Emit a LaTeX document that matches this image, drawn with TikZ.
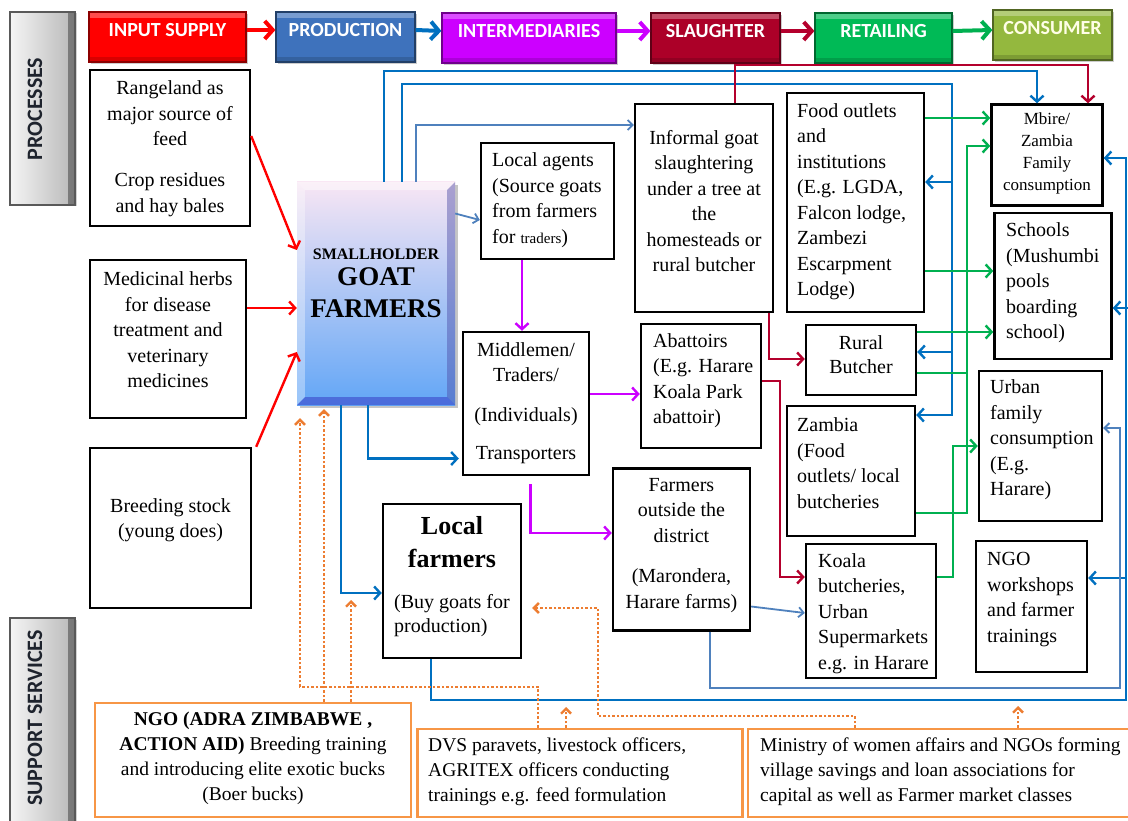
\documentclass[tikz,border=0pt]{standalone}
\usepackage{fontspec}
\setmainfont{Liberation Serif}
\newfontfamily\labfont{Carlito}
\usetikzlibrary{arrows.meta,shadows}
\definecolor{cRed}{RGB}{255,0,0}
\definecolor{cBlue}{RGB}{0,112,192}
\definecolor{cProd}{RGB}{62,114,188}
\definecolor{cMag}{RGB}{204,0,255}
\definecolor{cSl}{RGB}{172,0,40}
\definecolor{cDred}{RGB}{180,0,45}
\definecolor{cGrn}{RGB}{0,176,80}
\definecolor{cRet}{RGB}{0,186,86}
\definecolor{cCons}{RGB}{148,184,62}
\definecolor{cSteel}{RGB}{79,129,189}
\definecolor{cOrg}{RGB}{237,125,49}
\definecolor{cOrgBox}{RGB}{247,150,70}
\definecolor{cSide}{RGB}{30,35,45}
\tikzset{
  box/.style={draw=black, line width=2.4pt, fill=white, inner sep=0pt},
  obox/.style={draw=cOrgBox, line width=2.4pt, fill=white, inner sep=0pt},
  txt/.style={font=\fontsize{20}{25.5}\selectfont, inner sep=0pt},
  ctxt/.style={txt, align=center},
  ltxt/.style={txt, align=left, anchor=west},
  stxt/.style={font=\fontsize{19.5}{25}\selectfont, inner sep=0pt},
  pbox/.style={fill=#1, draw=#1!55!black, line width=1.2pt, minimum height=50pt, inner sep=0pt,
     text=white, font=\labfont\bfseries\fontsize{20}{22}\selectfont,
     drop shadow={opacity=0.4, shadow xshift=1.5pt, shadow yshift=-2pt},
     path picture={\fill[white,opacity=0.3] (path picture bounding box.north west) rectangle ([yshift=-6pt]path picture bounding box.north east);
                   \fill[black,opacity=0.15] (path picture bounding box.south west) rectangle ([yshift=5pt]path picture bounding box.south east);}},
  side/.style={left color=white!96!black, right color=white!72!black, draw=black!65, line width=1.2pt, inner sep=0pt,
     drop shadow={opacity=0.35, shadow xshift=1.5pt, shadow yshift=-1.5pt},
     path picture={\fill[black,opacity=0.35] ([xshift=-7pt]path picture bounding box.north east) rectangle (path picture bounding box.south east);}},
  sidetxt/.style={font=\labfont\bfseries\fontsize{22}{24}\selectfont, text=cSide, rotate=90, inner sep=0pt},
  parrow/.style={line width=4pt, -{Straight Barb[length=8pt,width=18pt]}},
  tip/.style={-{Straight Barb[length=6pt,width=13pt]}},
  rtip/.style={{Straight Barb[length=6pt,width=13pt]}-},
  stip/.style={-{Straight Barb[length=5pt,width=10pt]}},
  otip/.style={-{Straight Barb[length=5pt,width=10pt]}},
  blu/.style={draw=cBlue, line width=2.4pt},
  sblu/.style={draw=cSteel, line width=1.8pt},
  mag/.style={draw=cMag, line width=2.4pt},
  dred/.style={draw=cDred, line width=2.4pt},
  grn/.style={draw=cGrn, line width=2.4pt},
  rd/.style={draw=cRed, line width=2.4pt},
  org/.style={draw=cOrg, line width=2.4pt, dash pattern=on 2.5pt off 2pt},
}
\begin{document}
\begin{tikzpicture}[x=1pt,y=-1pt]
\useasboundingbox (0,0) rectangle (1128,821);
\fill[white] (0,0) rectangle (1128,821);

% ---------- top process boxes ----------
\node[pbox=cRed, minimum width=157pt] (inp) at (167.5,37) {\raisebox{7pt}[\height][\depth]{INPUT SUPPLY}};
\node[pbox=cProd, minimum width=139pt] (prod) at (345.5,37) {\raisebox{7pt}[\height][\depth]{PRODUCTION}};
\node[pbox=cMag, minimum width=174pt] (inter) at (529,38) {\raisebox{7pt}[\height][\depth]{INTERMEDIARIES}};
\node[pbox=cSl, minimum width=129pt] (slau) at (715.5,38) {\raisebox{7pt}[\height][\depth]{SLAUGHTER}};
\node[pbox=cRet, minimum width=137pt] (reta) at (883.5,38) {\raisebox{7pt}[\height][\depth]{RETAILING}};
\node[pbox=cCons, minimum width=119pt, text=white!90!yellow] (cons) at (1052.5,35) {\raisebox{7pt}[\height][\depth]{CONSUMER}};

\draw[parrow, draw=cRed] ([yshift=7pt]inp.east) -- ([yshift=7pt]prod.west);
\draw[parrow, draw=cBlue] ([yshift=7pt]prod.east) -- ([yshift=7pt]inter.west);
\draw[parrow, draw=cMag] ([yshift=7pt]inter.east) -- ([yshift=7pt]slau.west);
\draw[parrow, draw=cDred] ([yshift=7pt]slau.east) -- ([yshift=7pt]reta.west);
\draw[parrow, draw=cGrn] ([yshift=7pt]reta.east) -- ([yshift=5pt]cons.west);

% ---------- side labels ----------
\node[side, minimum width=65pt, minimum height=193pt] (proc) at (42.5,108.5) {};
\node[sidetxt] (procT) at (35,109) {PROCESSES};
\node[side, minimum width=65pt, minimum height=206pt] (supp) at (42.5,721) {};
\node[sidetxt] (suppT) at (35,718) {SUPPORT SERVICES};

% ---------- boxes ----------
\node[box, minimum width=160pt, minimum height=156pt] (rang) at (170,148) {};
\node[ctxt] (rangT) at (170,148.5) {Rangeland as\\major source of\\feed\\[15.5pt]Crop residues\\and hay bales};
\node[box, minimum width=156pt, minimum height=158pt] (medi) at (168,339) {};
\node[ctxt] (mediT) at (168,330) {Medicinal herbs\\for disease\\treatment and\\veterinary\\medicines};
\node[box, minimum width=161pt, minimum height=160pt] (bree) at (170.5,528) {};
\node[ctxt] (breeT) at (170.5,520) {Breeding stock\\(young does)};

% smallholder goat farmers
\node[minimum width=158pt, minimum height=223pt, inner sep=0pt,
      top color={rgb,255:red,248;green,230;blue,244},
      middle color={rgb,255:red,176;green,208;blue,250},
      bottom color={rgb,255:red,98;green,166;blue,246},
      drop shadow={opacity=0.45, shadow xshift=3pt, shadow yshift=-3pt}] (sgf) at (376,293.5) {};
\fill[white, opacity=0.45] (sgf.north west) -- (sgf.north east) -- ([xshift=-8pt,yshift=-8pt]sgf.north east) -- ([xshift=8pt,yshift=-8pt]sgf.north west) -- cycle;
\fill[white, opacity=0.35] (sgf.north west) -- ([xshift=8pt,yshift=-8pt]sgf.north west) -- ([xshift=8pt,yshift=8pt]sgf.south west) -- (sgf.south west) -- cycle;
\fill[black!50!blue!70, opacity=0.45] (sgf.north east) -- ([xshift=-8pt,yshift=-8pt]sgf.north east) -- ([xshift=-8pt,yshift=8pt]sgf.south east) -- (sgf.south east) -- cycle;
\fill[black!30!blue!80, opacity=0.5] (sgf.south west) -- ([xshift=8pt,yshift=8pt]sgf.south west) -- ([xshift=-8pt,yshift=8pt]sgf.south east) -- (sgf.south east) -- cycle;
\node[align=center, inner sep=0pt, font=\bfseries\fontsize{27}{32}\selectfont] (sgfT) at (376,283) {{\fontsize{16}{20}\selectfont SMALLHOLDER}\\[-6pt]GOAT\\FARMERS};

\node[box, minimum width=133pt, minimum height=116pt] (agents) at (547.5,201) {};
\node[ltxt] (agentsT) at (492,200) {Local agents\\(Source goats\\from farmers\\for {\fontsize{15}{25.5}\selectfont traders})};

\node[box, minimum width=138pt, minimum height=208pt] (informal) at (704,208) {};
\node[ctxt] (informalT) at (704,201) {Informal goat\\slaughtering\\under a tree at\\the\\homesteads or\\rural butcher};

\node[box, minimum width=137pt, minimum height=219pt] (food) at (855.5,202.5) {};
\node[ltxt] (foodT) at (797,201.5) {Food outlets\\and\\institutions\\(E.g. LGDA,\\Falcon lodge,\\Zambezi\\Escarpment\\Lodge)};

\node[box, minimum width=111pt, minimum height=101pt] (mbire) at (1047,155) {};
\node[align=center, inner sep=0pt, font=\fontsize{17}{22}\selectfont] (mbireT) at (1047,153) {Mbire/\\Zambia\\Family\\consumption};

\node[box, minimum width=117pt, minimum height=146pt] (schools) at (1053,286) {};
\node[ltxt] (schoolsT) at (1006,283) {Schools\\(Mushumbi\\pools\\boarding\\school)};

\node[box, minimum width=126pt, minimum height=143pt] (middle) at (526,403.5) {};
\node[ctxt] (middleT) at (526,403) {Middlemen/\\Traders/\\[14.5pt](Individuals)\\[12.5pt]Transporters};

\node[box, minimum width=120pt, minimum height=124pt] (abat) at (701,386) {};
\node[ltxt] (abatT) at (653,380.5) {Abattoirs\\(E.g. Harare\\Koala Park\\abattoir)};

\node[box, minimum width=110pt, minimum height=70pt] (rural) at (861,360) {};
\node[align=center, inner sep=0pt, font=\fontsize{20}{24}\selectfont] (ruralT) at (861,355) {Rural\\Butcher};

\node[box, minimum width=128pt, minimum height=130pt] (zambia) at (851,471) {};
\node[ltxt] (zambiaT) at (797,463) {Zambia\\(Food\\outlets/ local\\butcheries};

\node[box, minimum width=123pt, minimum height=150pt] (urban) at (1040.5,446) {};
\node[ltxt] (urbanT) at (990,440) {Urban\\family\\consumption\\(E.g.\\Harare)};

\node[box, minimum width=137pt, minimum height=162pt] (farmout) at (681.5,549.5) {};
\node[ctxt] (farmoutT) at (681.5,545.5) {Farmers\\outside the\\district\\[15pt](Marondera,\\Harare farms)};

\node[box, minimum width=138pt, minimum height=154pt] (localf) at (452,581) {};
\node[align=center, inner sep=0pt, font=\fontsize{26}{33}\selectfont\bfseries] (lf1) at (452,542.5) {Local\\farmers};
\node[align=left, anchor=west, inner sep=0pt, font=\fontsize{20}{24}\selectfont] (lf2) at (394,616) {(Buy goats for\\production)};

\node[box, minimum width=130pt, minimum height=134pt] (koala) at (871,611) {};
\node[ltxt] (koalaT) at (818,613.5) {Koala\\butcheries,\\Urban\\Supermarkets\\e.g. in Harare};

\node[box, minimum width=111pt, minimum height=131pt] (ngow) at (1031.5,606.5) {};
\node[ltxt] (ngowT) at (987,599.5) {NGO\\workshops\\and farmer\\trainings};

% support boxes
\node[obox, minimum width=316pt, minimum height=114pt] (ngo) at (253,760) {};
\node[stxt, align=center] (ngoT) at (253,758.5) {\textbf{NGO (ADRA ZIMBABWE ,}\\\textbf{ACTION AID)} Breeding training\\and introducing elite exotic bucks\\(Boer bucks)};
\node[obox, minimum width=325pt, minimum height=88pt] (dvs) at (580,773) {};
\node[stxt, align=left, anchor=west] (dvsT) at (428,772) {DVS paravets, livestock officers,\\AGRITEX officers conducting\\trainings e.g. feed formulation};
\node[obox, minimum width=387pt, minimum height=88pt] (mini) at (941.5,773) {};
\node[stxt, align=left, anchor=west] (miniT) at (760,772) {Ministry of women affairs and NGOs forming\\village savings and loan associations for\\capital as well as Farmer market classes};

% ---------- red input arrows ----------
\draw[rd,tip] ([yshift=12pt]rang.east) -- ([yshift=43.5pt]sgf.west);
\draw[rd,tip] ([yshift=31pt]medi.east) -- ([yshift=-14.5pt]sgf.west);
\draw[rd,tip] ([xshift=4pt]bree.north east) -- ([yshift=-58.5pt]sgf.west);

% ---------- production (blue) ----------
\draw[blu,tip] ([xshift=8pt]sgf.north) -- ++(0,-111) -| ([xshift=-10pt]mbire.north);
\coordinate (bv) at (952,84);
\draw[blu,tip] ([xshift=26pt]sgf.north) |- (bv) |- ([yshift=56pt]zambia.east);
\draw[blu,rtip] ([yshift=20.5pt]food.east) -- ++(28,0);
\draw[blu,rtip] ([yshift=8pt]rural.east) -- ++(36,0);
\draw[sblu,stip] ([xshift=40pt]sgf.north) |- ([yshift=83pt]informal.west);
\draw[sblu,stip] ([yshift=80pt]sgf.east) -- ([yshift=-19pt]agents.west);
\draw[blu,tip] ([xshift=-8pt]sgf.south) |- ([yshift=-55pt,xshift=-3pt]middle.west);
\draw[blu,tip] ([xshift=-35pt]sgf.south) |- ([yshift=-12pt]localf.west);
\coordinate (br) at (1126,700);
\draw[blu,tip] ([xshift=-21pt]localf.south) |- (br) |- ([yshift=-3pt]mbire.east);
\draw[blu,rtip] ([yshift=-22pt]schools.east) -- ++(15,0);
\draw[blu,rtip] ([yshift=28.5pt]ngow.east) -- ++(39,0);
\coordinate (sr) at (1120,688);
\draw[sblu,stip] ([xshift=28.5pt]farmout.south) |- (sr) |- ([yshift=18pt]urban.east);
\draw[sblu,stip] ([yshift=-57pt]farmout.east) -- ([yshift=-2pt]koala.west);

% ---------- intermediaries (magenta) ----------
\draw[mag,tip] ([xshift=-25.5pt]agents.south) -- ([xshift=-4pt]middle.north);
\draw[mag,tip] ([yshift=9.5pt]middle.east) -- ([yshift=-8pt]abat.west);
\draw[mag,tip] ([xshift=4.5pt,yshift=-8pt]middle.south) |- ([yshift=16.5pt]farmout.west);

% ---------- slaughter (dark red) ----------
\draw[dred,tip] ([xshift=31pt]informal.north) -- ++(0,-38) -| ([xshift=41pt]mbire.north);
\draw[dred,tip] ([xshift=65pt]informal.south) |- ([yshift=1pt]rural.west);
\draw[dred,tip] ([yshift=5pt]abat.east) -- ++(18,0) |- ([yshift=34pt]koala.west);

% ---------- retailing (green) ----------
\draw[grn,tip] ([yshift=84.5pt]food.east) -- ([yshift=37pt]mbire.west);
\draw[grn,tip] ([yshift=-68.5pt]food.east) -- ([yshift=15pt]schools.west);
\draw[grn,tip] ([yshift=28pt]rural.east) -- ([yshift=-46pt]schools.west);
\draw[grn,tip] ([yshift=-42pt]zambia.east) -- ++(51,0) |- ([yshift=9pt]mbire.west);
\draw[grn] ([yshift=-13pt]rural.east) -- ++(50,0);
\draw[grn,tip] ([yshift=34pt]koala.east) -- ++(16,0) |- (urban.west);

% ---------- support services (orange dotted) ----------
\draw[org,otip] ([xshift=71pt]ngo.north) -- ([xshift=-52pt,yshift=-4pt]sgf.south);
\coordinate (o2) at (351,600);
\draw[org,otip] ([xshift=98pt]ngo.north) -- (o2);
\draw[org,otip] ([xshift=-42pt]dvs.north) -- ++(0,-41) -| ([xshift=-76pt,yshift=-13pt]sgf.south);
\coordinate (o3) at (566,707);
\draw[org,otip] ([xshift=-14pt]dvs.north) -- (o3);
\coordinate (m1) at (598,716);
\draw[org,otip] ([xshift=-86.5pt]mini.north) |- (m1) |- ([xshift=10pt,yshift=-27pt]localf.east);
\coordinate (o4) at (1018,706);
\draw[org,otip] ([xshift=76.5pt]mini.north) -- (o4);
\end{tikzpicture}
\end{document}
